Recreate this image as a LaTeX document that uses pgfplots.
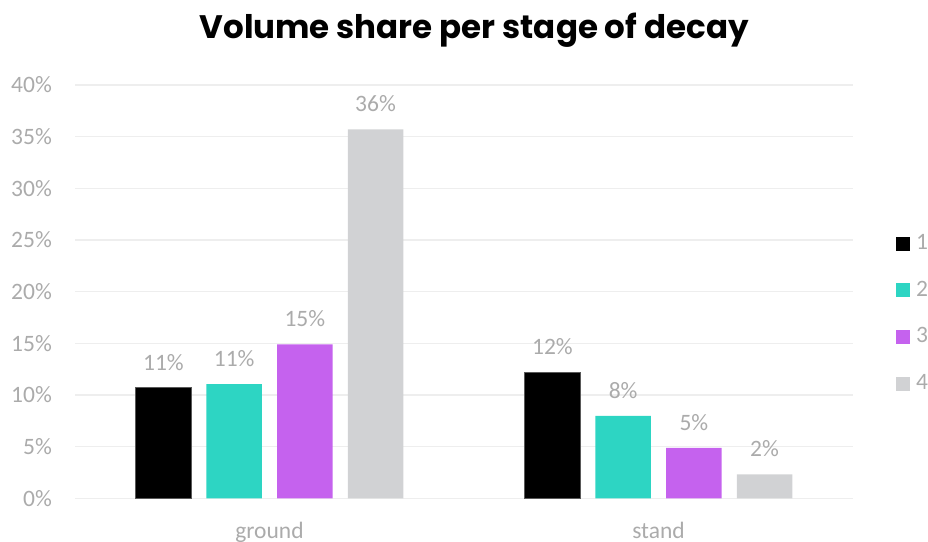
\documentclass[border=0pt]{standalone}
\usepackage{pgfplots}
\pgfplotsset{compat=1.18}
\usepackage{fontspec}
\setmainfont{Carlito}
\newfontfamily\poppins{Poppins}
\definecolor{cteal}{HTML}{2DD5C3}
\definecolor{cpurple}{HTML}{C562EE}
\definecolor{cgray}{HTML}{D1D2D4}
\definecolor{ctext}{HTML}{ABABAB}
\definecolor{cgrid}{HTML}{EEEEEE}
\pgfplotsset{sq legend/.style={legend image code/.code={\fill[##1,draw=none] (0pt,-8pt) rectangle (14pt,6pt);}}}
\begin{document}
\begin{tikzpicture}
\useasboundingbox (0,0) rectangle (928pt,-541pt);
\begin{axis}[
  at={(75pt,-498.3pt)}, anchor=south west,
  scale only axis, width=778pt, height=413.3pt,
  xmin=-0.5, xmax=1.5, ymin=0, ymax=40,
  ybar=15.2pt, bar width=55.5pt,
  axis line style={draw=none},
  tick style={draw=none},
  xtick={0,1}, xticklabels={ground,stand},
  ytick={0,5,10,15,20,25,30,35,40},
  yticklabels={0\%,5\%,10\%,15\%,20\%,25\%,30\%,35\%,40\%},
  ymajorgrids, major grid style={draw=cgrid, line width=1.6pt},
  every tick label/.append style={font=\fontsize{23.5}{28}\selectfont, text=ctext, inner sep=0pt},
  yticklabel style={anchor=east, xshift=-23pt},
  xticklabel style={anchor=north, yshift=-19pt},
  title={\poppins\bfseries Volume share per stage of decay},
  title style={at={(axis description cs:0.513,1.097)}, anchor=base, font=\fontsize{32.5}{40}\selectfont, inner sep=0pt},
  point meta=explicit symbolic,
  nodes near coords,
  every node near coord/.append style={font=\fontsize{23.5}{28}\selectfont, text=ctext, inner sep=0pt, anchor=south, yshift=17pt},
  legend style={at={(axis description cs:1.0553,0.6395)}, anchor=north west, draw=none, fill=none, inner sep=0pt, row sep=30pt, column sep=6pt, font=\fontsize{23.5}{28}\selectfont, text=ctext, nodes={inner sep=0pt}},
  legend cell align=left,
]
\addplot[fill=black, draw=black!65, line width=0.6pt, sq legend] coordinates {(0,10.70) [11\%] (1,12.19) [12\%]};
\addplot[fill=cteal, draw=none, sq legend] coordinates {(0,11.06) [11\%] (1,7.99) [8\%]};
\addplot[fill=cpurple, draw=none, sq legend] coordinates {(0,14.90) [15\%] (1,4.87) [5\%]};
\addplot[fill=cgray, draw=none, sq legend] coordinates {(0,35.71) [36\%] (1,2.32) [2\%]};
\legend{1,2,3,4}
\end{axis}
\end{tikzpicture}
\end{document}
